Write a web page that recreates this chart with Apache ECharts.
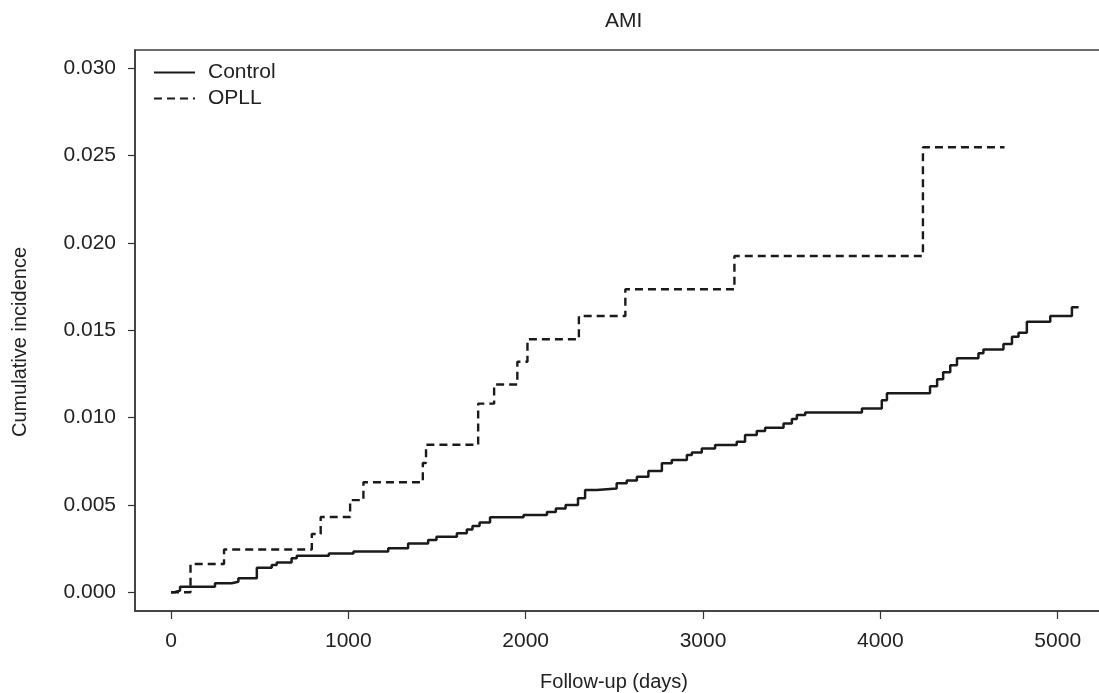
<!DOCTYPE html>
<html>
<head>
<meta charset="utf-8">
<script src="https://cdn.jsdelivr.net/npm/echarts@6/dist/echarts.min.js"></script>
<style>
html,body{margin:0;padding:0;background:#fff;}
#chart{width:1099px;height:693px;}
</style>
</head>
<body>
<div id="chart"></div>
<script>
// ---- data ----
const titleText = 'AMI';
const xName = 'Follow-up (days)';
const yName = 'Cumulative incidence';
const seriesNames = ['Control', 'OPLL'];

// Control cumulative incidence, step points [day, value]
const controlDays = [0, 20, 51, 248, 342, 380, 484, 568, 596, 680, 709, 890, 1029, 1225, 1337, 1450, 1497, 1612, 1668, 1700, 1740, 1799, 1988, 2120, 2170, 2225, 2295, 2335, 2400, 2513, 2570, 2627, 2692, 2768, 2824, 2909, 2937, 2993, 3068, 3190, 3237, 3303, 3350, 3454, 3501, 3529, 3576, 3896, 4008, 4037, 4280, 4320, 4354, 4394, 4432, 4553, 4581, 4694, 4742, 4779, 4826, 4958, 5080, 5118];
const controlValues = [0.0000, 0.0001, 0.00032, 0.00052, 0.0006, 0.0008, 0.0014, 0.00156, 0.0017, 0.00195, 0.0021, 0.00222, 0.00234, 0.00252, 0.0028, 0.0030, 0.00318, 0.00338, 0.0036, 0.0038, 0.0040, 0.0043, 0.00443, 0.0046, 0.0048, 0.0050, 0.00538, 0.00586, 0.00595, 0.00624, 0.0064, 0.00662, 0.00694, 0.00739, 0.00757, 0.00786, 0.0080, 0.00824, 0.00843, 0.00862, 0.0090, 0.00923, 0.00942, 0.00967, 0.00992, 0.01015, 0.0103, 0.01053, 0.0110, 0.0114, 0.0118, 0.0122, 0.0126, 0.0130, 0.0134, 0.01368, 0.0139, 0.01422, 0.01463, 0.01486, 0.01549, 0.01582, 0.01632, 0.01632];

// OPLL
const opllDays = [0, 110, 299, 794, 844, 1010, 1085, 1420, 1438, 1732, 1822, 1953, 2010, 2300, 2562, 3177, 4240, 4700];
const opllValues = [0.0000, 0.00162, 0.00245, 0.00334, 0.00431, 0.00528, 0.0063, 0.0074, 0.00845, 0.0108, 0.0119, 0.0132, 0.01449, 0.01582, 0.01735, 0.01925, 0.02548, 0.02548];

const xTicks = [0, 1000, 2000, 3000, 4000, 5000];
const yTicks = [0.000, 0.005, 0.010, 0.015, 0.020, 0.025, 0.030];
// axis extents (plot box extends beyond tick range, R-style)
const xMin = -203, xMax = 5261;
const yMin = -0.00107, yMax = 0.031048;

// ---- chart ----
const pair = (xs, ys) => xs.map((x, i) => [x, ys[i]]);
const FONT = 'Liberation Sans, Arial, Helvetica, sans-serif';
const chart = echarts.init(document.getElementById('chart'), null, {renderer: 'canvas'});
const AX = '#3a3a3a';

const option = {
  backgroundColor: '#ffffff',
  animation: false,
  title: {
    text: titleText,
    left: 605, top: 11, padding: 0,
    textStyle: {fontFamily: FONT, fontSize: 21, fontWeight: 'normal', color: '#222'}
  },
  legend: {
    orient: 'vertical',
    left: 153, top: 62, padding: 0,
    itemWidth: 41, itemHeight: 14, itemGap: 5,
    data: seriesNames,
    itemStyle: {color: 'rgba(0,0,0,0)', borderColor: 'rgba(0,0,0,0)', borderWidth: 0},
    textStyle: {fontFamily: FONT, fontSize: 21, color: '#222', padding: [0, 0, 0, 8]}
  },
  grid: {left: 135, top: 50, right: -5, bottom: 82, outerBoundsMode: 'none', containLabel: false, show: true, borderColor: AX, borderWidth: 1.5, backgroundColor: 'transparent'},
  xAxis: {
    type: 'value', min: xMin, max: xMax,
    position: 'bottom',
    axisLine: {show: true, onZero: false, lineStyle: {color: AX, width: 1.5}},
    axisTick: {show: true, length: 8, customValues: xTicks, lineStyle: {color: '#333', width: 1.2}},
    axisLabel: {margin: 20, customValues: xTicks, fontFamily: FONT, fontSize: 21, color: '#222', formatter: v => String(v)},
    splitLine: {show: false},
    name: xName, nameLocation: 'middle', nameGap: 61,
    nameTextStyle: {fontFamily: FONT, fontSize: 20, color: '#222', padding: [0, 11, 0, 0]}
  },
  yAxis: {
    type: 'value', min: yMin, max: yMax,
    position: 'left',
    axisLine: {show: true, onZero: false, lineStyle: {color: AX, width: 1.5}},
    axisTick: {show: true, length: 7, customValues: yTicks, lineStyle: {color: '#333', width: 1.2}},
    axisLabel: {margin: 19, customValues: yTicks, fontFamily: FONT, fontSize: 21, color: '#222', formatter: v => v.toFixed(3)},
    splitLine: {show: false}
  },
  graphic: [{
    type: 'text',
    x: 20, y: 342, rotation: Math.PI / 2,
    style: {text: yName, x: 0, y: 0, textAlign: 'center', textVerticalAlign: 'middle', font: '20px ' + FONT, fill: '#222'}
  }],
  series: [
    {
      name: seriesNames[0], type: 'line',
      step: 'end', symbol: 'none', clip: true,
      lineStyle: {color: '#1a1a1a', width: 2.5, type: 'solid'},
      itemStyle: {color: '#1a1a1a'},
      data: pair(controlDays, controlValues)
    },
    {
      name: seriesNames[1], type: 'line',
      step: 'end', symbol: 'none', clip: true,
      lineStyle: {color: '#1a1a1a', width: 2.4, type: [8, 5]},
      itemStyle: {color: '#1a1a1a'},
      data: pair(opllDays, opllValues)
    }
  ]
};
chart.setOption(option);
</script>
</body>
</html>
